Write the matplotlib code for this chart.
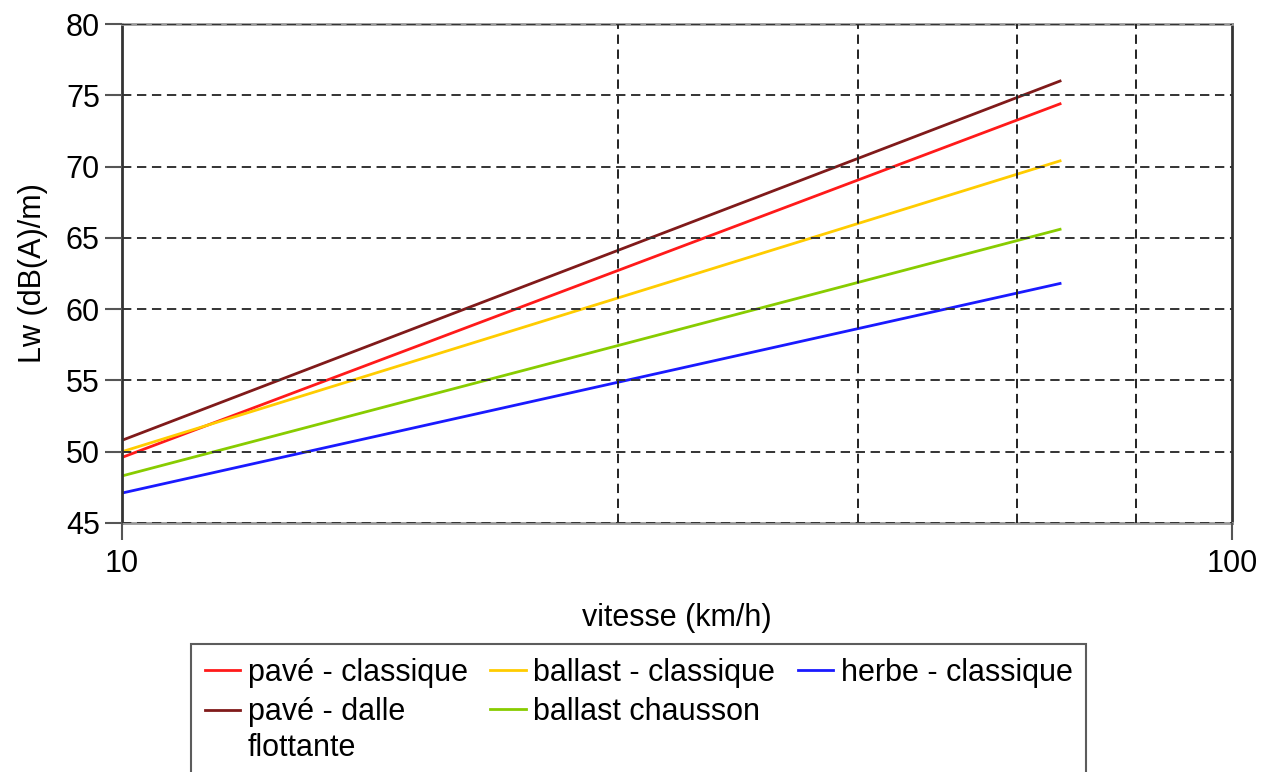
import numpy as np
import matplotlib.pyplot as plt
from matplotlib.ticker import FixedLocator, NullFormatter

plt.rcParams["font.family"] = ["Liberation Sans", "DejaVu Sans"]

# vitesse (km/h) -> Lw (dB(A)/m), read at the ends of each line
vitesse = [10, 70]
pave_classique = [49.6, 74.4]
pave_dalle = [50.8, 76.0]
ballast_classique = [50.0, 70.4]
ballast_chausson = [48.3, 65.6]
herbe_classique = [47.1, 61.8]

grid_x = [28, 46, 64, 82]
yticks = [45, 50, 55, 60, 65, 70, 75, 80]

series = [
    ("pavé - classique", pave_classique, "#ff1a1a"),
    ("pavé - dalle\nflottante", pave_dalle, "#801a1a"),
    ("ballast - classique", ballast_classique, "#ffcc00"),
    ("ballast chausson", ballast_chausson, "#88cc00"),
    ("herbe - classique", herbe_classique, "#1a1aff"),
]

FS = 22

fig = plt.figure(figsize=(12.7, 7.72), dpi=100)
ax = fig.add_axes([122 / 1270, 1 - 523 / 772, 1110 / 1270, 499 / 772])

for label, vals, color in series:
    ax.plot(vitesse, vals, color=color, lw=2.0, label=label)

ax.set_xscale("log")
ax.set_xlim(10, 100)
ax.set_ylim(45, 80)
ax.xaxis.set_major_locator(FixedLocator([10, 100]))
ax.xaxis.set_major_formatter(plt.FixedFormatter(["10", "100"]))
ax.xaxis.set_minor_locator(FixedLocator(grid_x))
ax.xaxis.set_minor_formatter(NullFormatter())
ax.set_yticks(yticks)

ax.tick_params(axis="both", which="major", labelsize=FS, length=12,
               width=1.5, color="#555555", direction="out")
ax.tick_params(axis="y", pad=4)
ax.tick_params(axis="x", pad=7)
ax.tick_params(axis="x", which="minor", length=0)

dash = (0, (4.8, 2.9))
ax.grid(True, axis="y", which="major", ls=dash, color="#333333", lw=1.4)
ax.grid(True, axis="x", which="minor", ls=dash, color="#222222", lw=1.4)
ax.set_axisbelow(False)

for side in ["left", "right"]:
    ax.spines[side].set_color("#333333")
    ax.spines[side].set_linewidth(2)
for side in ["top", "bottom"]:
    ax.spines[side].set_color("#999999")
    ax.spines[side].set_linewidth(2)

ax.set_xlabel("vitesse (km/h)", fontsize=FS, labelpad=17)
ax.set_ylabel("Lw (dB(A)/m)", fontsize=FS, labelpad=13)

handles, labels = ax.get_legend_handles_labels()
leg = fig.legend(handles, labels, ncol=3, fontsize=FS,
                 loc="upper left", bbox_to_anchor=(191 / 1270, 1 - 644 / 772),
                 borderaxespad=0, frameon=True, fancybox=False,
                 edgecolor="#333333", handlelength=1.15, handletextpad=0.25,
                 columnspacing=0.75, labelspacing=0.3, borderpad=0.45)
leg.get_frame().set_linewidth(1.5)
for h in leg.legend_handles:
    h.set_linewidth(2.0)
leg.texts[1].set_linespacing(1.25)
# keep the handle of the two-line entry level with its first line
bh = leg.legend_handles[1]
bh.set_ydata(np.asarray(bh.get_ydata()) + 14.5)

fig.savefig("out.png", dpi=100)
